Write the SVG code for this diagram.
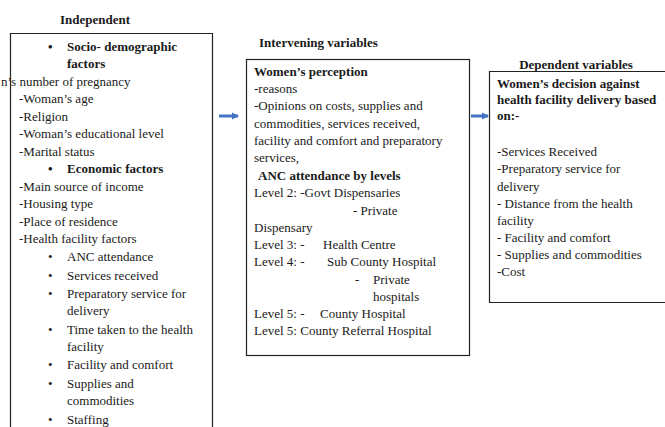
<svg xmlns="http://www.w3.org/2000/svg" width="665" height="427" viewBox="0 0 665 427" font-family="'Liberation Serif', 'Times New Roman', serif" font-size="13">
<defs>
<marker id="ah" viewBox="0 0 6 6" refX="5" refY="3" markerWidth="2.4" markerHeight="2.4" markerUnits="strokeWidth" orient="auto">
<path d="M0,0 L6,3 L0,6 z" fill="#4472c4"/>
</marker>
<style>
text{font-family:'Liberation Serif','Times New Roman',serif;font-size:13px;fill:#1a1a1a}
.b{font-weight:bold}
.box{fill:#fff;stroke:#222;stroke-width:1.2}
.conn{stroke:#4472c4;stroke-width:3;fill:none;marker-end:url(#ah)}
</style>
</defs>
<rect width="665" height="427" fill="#fff"/>

<g id="independent">
<text class="b" x="95" y="24" text-anchor="middle">Independent</text>
<path class="box" d="M10.5,430 V33.5 H212.5 V430"/>
<text class="b" x="48" y="51">•</text>
<text class="b" x="67" y="51">Socio- demographic</text>
<text class="b" x="67" y="68">factors</text>
<text x="1" y="86">n’s number of pregnancy</text>
<text x="19" y="103">-Woman’s age</text>
<text x="19" y="121">-Religion</text>
<text x="19" y="138">-Woman’s educational level</text>
<text x="19" y="156">-Marital status</text>
<text class="b" x="48" y="173">•</text>
<text class="b" x="67" y="173">Economic factors</text>
<text x="19" y="191">-Main source of income</text>
<text x="19" y="208">-Housing type</text>
<text x="19" y="226">-Place of residence</text>
<text x="19" y="243">-Health facility factors</text>
<text x="48" y="261">•</text>
<text x="67" y="261">ANC attendance</text>
<text x="48" y="280">•</text>
<text x="67" y="280">Services received</text>
<text x="48" y="298">•</text>
<text x="67" y="298">Preparatory service for</text>
<text x="67" y="315">delivery</text>
<text x="48" y="334">•</text>
<text x="67" y="334">Time taken to the health</text>
<text x="67" y="351">facility</text>
<text x="48" y="369">•</text>
<text x="67" y="369">Facility and comfort</text>
<text x="48" y="388">•</text>
<text x="67" y="388">Supplies and</text>
<text x="67" y="405">commodities</text>
<text x="48" y="424">•</text>
<text x="67" y="424">Staffing</text>
</g>

<g id="intervening">
<text class="b" x="259" y="47">Intervening variables</text>
<rect class="box" x="246.5" y="59.5" width="223" height="296"/>
<text class="b" x="254" y="76">Women’s perception</text>
<text x="254" y="93">-reasons</text>
<text x="254" y="110">-Opinions on costs, supplies and</text>
<text x="254" y="128">commodities, services received,</text>
<text x="254" y="145">facility and comfort and preparatory</text>
<text x="254" y="162">services,</text>
<text class="b" x="258" y="180">ANC attendance by levels</text>
<text x="254" y="197">Level 2: -Govt Dispensaries</text>
<text x="353" y="215">- Private</text>
<text x="254" y="232">Dispensary</text>
<text x="254" y="249">Level 3: -</text>
<text x="323" y="249">Health Centre</text>
<text x="254" y="266">Level 4: -</text>
<text x="327" y="266">Sub County Hospital</text>
<text x="355" y="284">-</text>
<text x="373" y="284">Private</text>
<text x="373" y="301">hospitals</text>
<text x="254" y="318">Level 5: -</text>
<text x="320" y="318">County Hospital</text>
<text x="254" y="335">Level 5: County Referral Hospital</text>
</g>

<g id="dependent">
<text class="b" x="576" y="69" text-anchor="middle">Dependent variables</text>
<path class="box" d="M670,71.5 H489.5 V302.5 H670"/>
<text class="b" x="497" y="88">Women’s decision against</text>
<text class="b" x="497" y="104">health facility delivery based</text>
<text class="b" x="497" y="120">on:-</text>
<text x="497" y="156">-Services Received</text>
<text x="497" y="173">-Preparatory service for</text>
<text x="497" y="191">delivery</text>
<text x="497" y="208">- Distance from the health</text>
<text x="497" y="225">facility</text>
<text x="497" y="242">- Facility and comfort</text>
<text x="497" y="259">- Supplies and commodities</text>
<text x="497" y="276">-Cost</text>
</g>

<g id="connectors">
<line class="conn" x1="219" y1="116" x2="238" y2="116"/>
<line class="conn" x1="471" y1="116" x2="488" y2="116"/>
</g>
</svg>
